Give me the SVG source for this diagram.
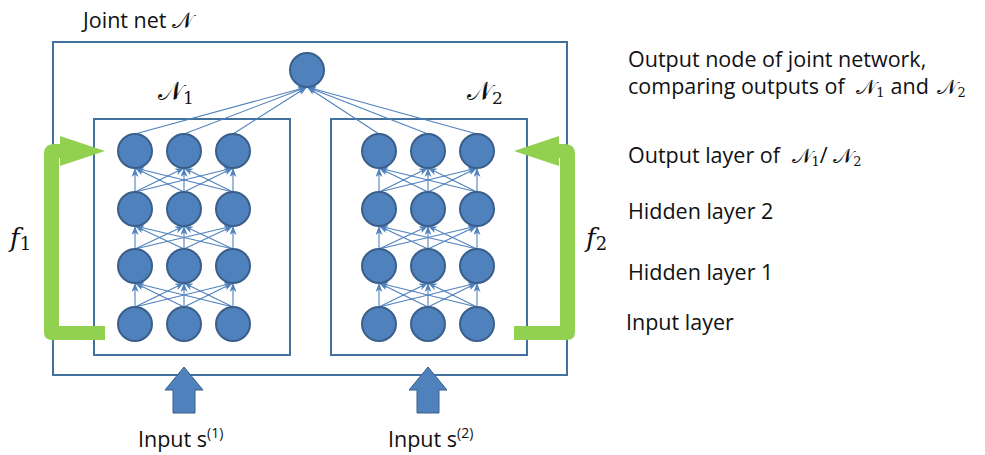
<svg xmlns="http://www.w3.org/2000/svg" width="985" height="455" viewBox="0 0 985 455">
  <style>
    .frame { fill: none; stroke: #41719c; stroke-width: 2; }
    .unit { fill: #4f81bd; stroke: #3a5f8b; stroke-width: 2; }
    .edge { stroke: #4f81bd; stroke-width: 1.1; fill: none; marker-end: url(#tip); }
    .feed { fill: #92d050; }
    .inarrow { fill: #4f81bd; stroke: #3a5f8b; stroke-width: 1; }
    .lbl { font-family: "Open Sans", "Liberation Sans", sans-serif; font-size: 21.5px; fill: #111; }
    .math { font-family: "DejaVu Serif", "Liberation Serif", serif; fill: #111; }
  </style>
  <defs>
    <marker id="tip" markerUnits="userSpaceOnUse" markerWidth="10" markerHeight="8" refX="9" refY="3.5" orient="auto">
      <path d="M0,0 L9,3.5 L0,7 L2.5,3.5 Z" fill="#4f81bd"/>
    </marker>
    <path id="bend" class="feed" d="M59,326 L105,326 L105,340 L52,340 Q44,340 44,332 L44,154 Q44,144 54,144 L60,144 L60,136 L105,151 L60,166 L60,158 L59,158 Z"/>
    <path id="up" class="inarrow" d="M184,367 L203,390 L195,390 L195,413 L173,413 L173,390 L165,390 Z"/>
  </defs>

  <!-- frames -->
  <g id="joint-net">
    <rect class="frame" x="53" y="42" width="514" height="333"/>
    <text class="lbl" x="83" y="28">Joint net <tspan class="math" font-size="22">𝒩</tspan></text>
  </g>
  <g id="net1-box">
    <rect class="frame" x="94" y="119" width="196" height="236"/>
    <text class="math" x="158" y="100" font-size="26">𝒩<tspan font-size="17" dy="4">1</tspan></text>
  </g>
  <g id="net2-box">
    <rect class="frame" x="331" y="119" width="196" height="236"/>
    <text class="math" x="467" y="100" font-size="26">𝒩<tspan font-size="17" dy="4">2</tspan></text>
  </g>

  <!-- connectors -->
  <g id="connectors">
    <!-- net 1: input -> hidden 1 -->
    <line class="edge" x1="135" y1="307" x2="135" y2="283"/>
    <line class="edge" x1="135" y1="307" x2="184" y2="283"/>
    <line class="edge" x1="135" y1="307" x2="233" y2="283"/>
    <line class="edge" x1="184" y1="307" x2="135" y2="283"/>
    <line class="edge" x1="184" y1="307" x2="184" y2="283"/>
    <line class="edge" x1="184" y1="307" x2="233" y2="283"/>
    <line class="edge" x1="233" y1="307" x2="135" y2="283"/>
    <line class="edge" x1="233" y1="307" x2="184" y2="283"/>
    <line class="edge" x1="233" y1="307" x2="233" y2="283"/>
    <!-- net 1: hidden 1 -> hidden 2 -->
    <line class="edge" x1="135" y1="249" x2="135" y2="226"/>
    <line class="edge" x1="135" y1="249" x2="184" y2="226"/>
    <line class="edge" x1="135" y1="249" x2="233" y2="226"/>
    <line class="edge" x1="184" y1="249" x2="135" y2="226"/>
    <line class="edge" x1="184" y1="249" x2="184" y2="226"/>
    <line class="edge" x1="184" y1="249" x2="233" y2="226"/>
    <line class="edge" x1="233" y1="249" x2="135" y2="226"/>
    <line class="edge" x1="233" y1="249" x2="184" y2="226"/>
    <line class="edge" x1="233" y1="249" x2="233" y2="226"/>
    <!-- net 1: hidden 2 -> output -->
    <line class="edge" x1="135" y1="192" x2="135" y2="168"/>
    <line class="edge" x1="135" y1="192" x2="184" y2="168"/>
    <line class="edge" x1="135" y1="192" x2="233" y2="168"/>
    <line class="edge" x1="184" y1="192" x2="135" y2="168"/>
    <line class="edge" x1="184" y1="192" x2="184" y2="168"/>
    <line class="edge" x1="184" y1="192" x2="233" y2="168"/>
    <line class="edge" x1="233" y1="192" x2="135" y2="168"/>
    <line class="edge" x1="233" y1="192" x2="184" y2="168"/>
    <line class="edge" x1="233" y1="192" x2="233" y2="168"/>
    <!-- net 2: input -> hidden 1 -->
    <line class="edge" x1="379" y1="307" x2="379" y2="283"/>
    <line class="edge" x1="379" y1="307" x2="428" y2="283"/>
    <line class="edge" x1="379" y1="307" x2="477" y2="283"/>
    <line class="edge" x1="428" y1="307" x2="379" y2="283"/>
    <line class="edge" x1="428" y1="307" x2="428" y2="283"/>
    <line class="edge" x1="428" y1="307" x2="477" y2="283"/>
    <line class="edge" x1="477" y1="307" x2="379" y2="283"/>
    <line class="edge" x1="477" y1="307" x2="428" y2="283"/>
    <line class="edge" x1="477" y1="307" x2="477" y2="283"/>
    <!-- net 2: hidden 1 -> hidden 2 -->
    <line class="edge" x1="379" y1="249" x2="379" y2="226"/>
    <line class="edge" x1="379" y1="249" x2="428" y2="226"/>
    <line class="edge" x1="379" y1="249" x2="477" y2="226"/>
    <line class="edge" x1="428" y1="249" x2="379" y2="226"/>
    <line class="edge" x1="428" y1="249" x2="428" y2="226"/>
    <line class="edge" x1="428" y1="249" x2="477" y2="226"/>
    <line class="edge" x1="477" y1="249" x2="379" y2="226"/>
    <line class="edge" x1="477" y1="249" x2="428" y2="226"/>
    <line class="edge" x1="477" y1="249" x2="477" y2="226"/>
    <!-- net 2: hidden 2 -> output -->
    <line class="edge" x1="379" y1="192" x2="379" y2="168"/>
    <line class="edge" x1="379" y1="192" x2="428" y2="168"/>
    <line class="edge" x1="379" y1="192" x2="477" y2="168"/>
    <line class="edge" x1="428" y1="192" x2="379" y2="168"/>
    <line class="edge" x1="428" y1="192" x2="428" y2="168"/>
    <line class="edge" x1="428" y1="192" x2="477" y2="168"/>
    <line class="edge" x1="477" y1="192" x2="379" y2="168"/>
    <line class="edge" x1="477" y1="192" x2="428" y2="168"/>
    <line class="edge" x1="477" y1="192" x2="477" y2="168"/>
    <!-- output layers -> joint output node -->
    <line class="edge" x1="135" y1="134" x2="307" y2="87"/>
    <line class="edge" x1="184" y1="134" x2="307" y2="87"/>
    <line class="edge" x1="233" y1="134" x2="307" y2="87"/>
    <line class="edge" x1="379" y1="134" x2="307" y2="87"/>
    <line class="edge" x1="428" y1="134" x2="307" y2="87"/>
    <line class="edge" x1="477" y1="134" x2="307" y2="87"/>
  </g>

  <!-- units -->
  <g id="joint-output"><circle class="unit" cx="307" cy="70" r="17"/></g>
  <g id="net1-units">
    <circle class="unit" cx="135" cy="151" r="17"/><circle class="unit" cx="184" cy="151" r="17"/><circle class="unit" cx="233" cy="151" r="17"/>
    <circle class="unit" cx="135" cy="209" r="17"/><circle class="unit" cx="184" cy="209" r="17"/><circle class="unit" cx="233" cy="209" r="17"/>
    <circle class="unit" cx="135" cy="266" r="17"/><circle class="unit" cx="184" cy="266" r="17"/><circle class="unit" cx="233" cy="266" r="17"/>
    <circle class="unit" cx="135" cy="324" r="17"/><circle class="unit" cx="184" cy="324" r="17"/><circle class="unit" cx="233" cy="324" r="17"/>
  </g>
  <g id="net2-units">
    <circle class="unit" cx="379" cy="151" r="17"/><circle class="unit" cx="428" cy="151" r="17"/><circle class="unit" cx="477" cy="151" r="17"/>
    <circle class="unit" cx="379" cy="209" r="17"/><circle class="unit" cx="428" cy="209" r="17"/><circle class="unit" cx="477" cy="209" r="17"/>
    <circle class="unit" cx="379" cy="266" r="17"/><circle class="unit" cx="428" cy="266" r="17"/><circle class="unit" cx="477" cy="266" r="17"/>
    <circle class="unit" cx="379" cy="324" r="17"/><circle class="unit" cx="428" cy="324" r="17"/><circle class="unit" cx="477" cy="324" r="17"/>
  </g>

  <!-- feedback arrows f1, f2 -->
  <g id="f1">
    <use href="#bend"/>
    <text class="math" x="10" y="247" font-size="26" font-style="italic">f<tspan font-style="normal" font-size="18" dy="3">1</tspan></text>
  </g>
  <g id="f2">
    <use href="#bend" transform="translate(619,0) scale(-1,1)"/>
    <text class="math" x="586" y="247" font-size="26" font-style="italic">f<tspan font-style="normal" font-size="18" dy="3">2</tspan></text>
  </g>

  <!-- inputs -->
  <g id="input1">
    <use href="#up"/>
    <text class="lbl" x="138" y="447">Input s<tspan font-size="14" dy="-9">(1)</tspan></text>
  </g>
  <g id="input2">
    <use href="#up" transform="translate(244,0)"/>
    <text class="lbl" x="388" y="447">Input s<tspan font-size="14" dy="-9">(2)</tspan></text>
  </g>

  <!-- legend -->
  <g id="legend">
    <text class="lbl" x="628" y="67">Output node of joint network,</text>
    <text class="lbl" x="628" y="94">comparing outputs of <tspan class="math" font-size="21" dx="6">𝒩</tspan><tspan class="math" font-size="13" dy="3">1</tspan><tspan dy="-3" dx="6">and</tspan> <tspan class="math" font-size="21" dx="3">𝒩</tspan><tspan class="math" font-size="13" dy="3">2</tspan></text>
    <text class="lbl" x="628" y="163">Output layer of <tspan class="math" font-size="21" dx="6">𝒩</tspan><tspan class="math" font-size="13" dy="3">1</tspan><tspan dy="-3">/ </tspan><tspan class="math" font-size="21">𝒩</tspan><tspan class="math" font-size="13" dy="3">2</tspan></text>
    <text class="lbl" x="628" y="219">Hidden layer 2</text>
    <text class="lbl" x="628" y="280">Hidden layer 1</text>
    <text class="lbl" x="626" y="330">Input layer</text>
  </g>
</svg>
